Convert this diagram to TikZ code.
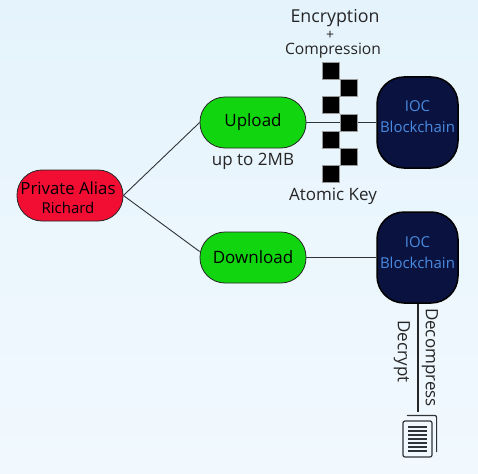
\documentclass[tikz,border=0pt]{standalone}
\usepackage{fontspec}
\setmainfont{Open Sans}
\usetikzlibrary{positioning, calc}
\definecolor{bgtop}{HTML}{E5F3FC}
\definecolor{bgbot}{HTML}{F1F9FE}
\definecolor{pillgreen}{HTML}{11D60F}
\definecolor{pillred}{HTML}{F20D33}
\definecolor{chainnavy}{HTML}{0A1240}
\definecolor{chainblue}{HTML}{4A8BE0}
\definecolor{inkgrey}{HTML}{2E3338}
\tikzset{
    pill/.style={draw=black!85, line width=0.8pt, rounded corners=25pt, minimum width=106pt, minimum height=51pt, inner sep=0pt, font=\fontsize{17}{20}\selectfont},
    chain/.style={draw=black, line width=1.5pt, fill=chainnavy, rounded corners=27pt, minimum width=81pt, minimum height=91pt, inner sep=0pt},
    chaintext/.style={align=center, inner sep=0pt, text=chainblue, font=\fontsize{15}{21}\selectfont},
    keybit/.style={draw=white!60!black, line width=0.2pt, fill=black, minimum size=17pt, inner sep=0pt},
    link/.style={draw=inkgrey, line width=0.9pt},
    caption/.style={inner sep=0pt, text=black!85, font=\fontsize{17}{20}\selectfont},
    page/.style={draw=inkgrey, line width=1.2pt, rounded corners=2pt}
}
\begin{document}
\begin{tikzpicture}[x=1pt, y=-1pt]
        \useasboundingbox (0,0) rectangle (478,473);
        \shade [top color=bgtop, bottom color=bgbot] (0,0) rectangle (478,473);
        \node [pill, fill=pillred] (alias) at (70,195.5) {};
        \node [inner sep=0pt, align=center, font=\fontsize{16.8}{19}\selectfont] (aliaslabel) at (68,198) {Private Alias \\ {\fontsize{15}{17}\selectfont Richard}};
        \node [pill, fill=pillgreen] (upload) at (253,122.5) {Upload};
        \node [pill, fill=pillgreen] (download) at (253,257.5) {Download};
        \node [chain] (ioctop) at (417.5,122.5) {};
        \node [chain] (iocbot) at (417.5,257.5) {};
        \node [chaintext] (toplabel) at (417.5,116.5) {IOC \\ Blockchain};
        \node [chaintext] (botlabel) at (417.5,252.5) {IOC \\ Blockchain};
        \node [caption, below=5pt of upload] (limit) {up to 2MB};
        \node [page, minimum width=29pt, minimum height=36pt] (doc) at (417.5,439) {};
        \draw [link] (alias.east) -- (upload.west);
        \draw [link] (alias.east) -- ([yshift=6pt]download.west);
        \draw [link] (upload.east) -- (ioctop.west);
        \draw [link] (download.east) -- (iocbot.west);
        \draw [draw=black!85, line width=2pt, shorten >=8pt] (iocbot.south) -- (doc.north);
        % key squares sit on top of the link
        \foreach \n/\kx/\ky in {1/330.5/70.5, 2/348.5/87.5, 3/330.5/105, 4/348.5/122.5, 5/330.5/139.5, 6/348.5/156.5, 7/330.5/173.5}
            \node [keybit] (key\n) at (\kx,\ky) {};
        \node [caption] (compress) at (333,51) {\fontsize{15.6}{18}\selectfont Compression};
        \node [caption] (plus) at (330,35) {\fontsize{14}{16}\selectfont +};
        \node [caption] (encrypt) at (335,18) {\fontsize{17.8}{21}\selectfont Encryption};
        \node [caption] (atomic) at (333,196) {Atomic Key};
        \node [caption, rotate=-90] (decrypt) at (402,351.5) {Decrypt};
        \node [caption, rotate=-90] (decompress) at (430,357.5) {Decompress};
        % paper behind the front page
        \draw [page, line cap=round] ([shift={(5pt,5pt)}]doc.north west) -- ([shift={(4pt,5pt)}]doc.north east) -- ([shift={(4pt,6pt)}]doc.south east);
        \foreach \ly in {427,431,435,439,443,447,451}
            \draw [inkgrey, line width=1.1pt] (408,\ly) -- (427,\ly);
    \end{tikzpicture}
\end{document}
